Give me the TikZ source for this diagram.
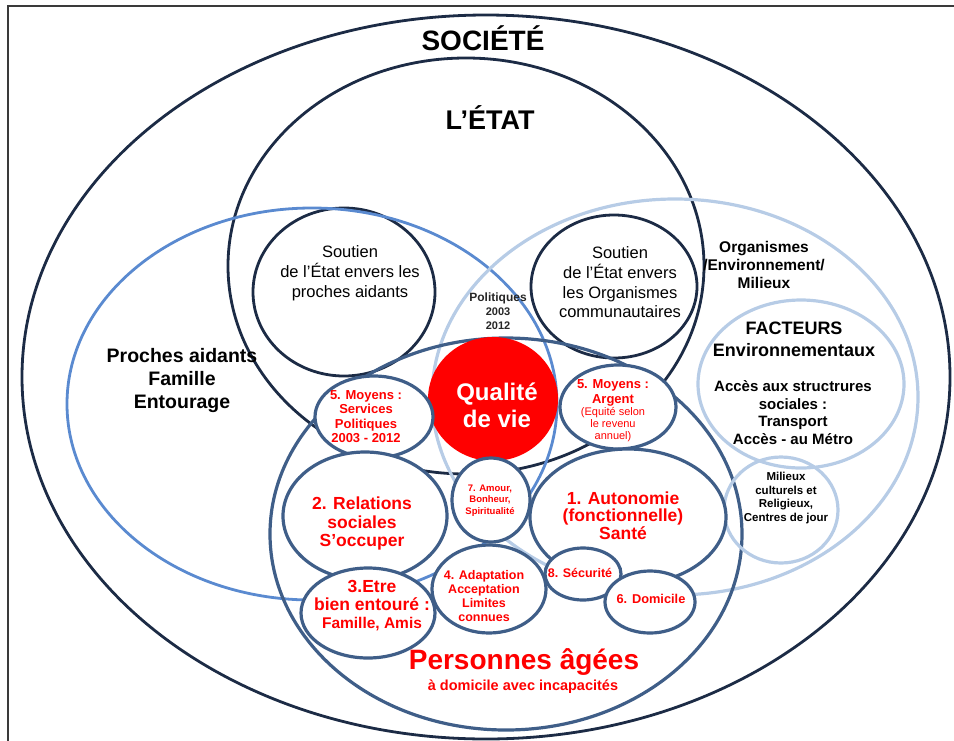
\documentclass[tikz,border=0pt]{standalone}
\usepackage{fontspec}
\setmainfont{Liberation Sans}
\definecolor{navyc}{HTML}{1C2B45}
\definecolor{midblue}{HTML}{5A8AD0}
\definecolor{paleblue}{HTML}{B7CCE6}
\definecolor{steel}{HTML}{3F5E88}
\definecolor{redc}{HTML}{FF0000}
\definecolor{framec}{HTML}{3A3A3A}
\begin{document}
\begin{tikzpicture}[x=1pt,y=-1pt,
  navyring/.style={draw=navyc, line width=2.8pt},
  midring/.style={draw=midblue, line width=2.8pt},
  palering/.style={draw=paleblue, line width=3.2pt},
  steelring/.style={draw=steel, line width=3.2pt},
  bubble/.style={draw=steel, line width=3.2pt, fill=white},
  lbl/.style={align=center, inner sep=0pt},
  blk/.style={lbl, text=black},
  rd/.style={lbl, text=redc, font=\bfseries}]
\useasboundingbox (0,0) rectangle (954,740);
\clip (0,0) rectangle (954,740);

% frame
\draw[framec, line width=1.2pt] (8,760) -- (8,6) -- (970,6);

% society and state
\draw[navyring] (486,377) ellipse [x radius=464pt, y radius=362pt];
\draw[navyring] (466,266) ellipse [x radius=238pt, y radius=208pt];

% state support circles
\draw[navyring] (344,292) ellipse [x radius=91pt, y radius=84pt];
\draw[navyring] (614,286.5) ellipse [x radius=83pt, y radius=71.5pt];

% caregivers and environment
\draw[midring] (312,404) ellipse [x radius=245pt, y radius=196pt];
\draw[palering] (675,397) ellipse [x radius=243pt, y radius=198pt];

% elderly people
\draw[steelring] (506,534) ellipse [x radius=236pt, y radius=196pt];

% environmental factors
\draw[palering] (801,384) ellipse [x radius=103pt, y radius=84pt];
\draw[palering] (781,510) ellipse [x radius=57pt, y radius=53pt];

% quality of life
\fill[redc] (493,399) ellipse [x radius=65pt, y radius=62pt];

% dimension bubbles
\draw[bubble] (374,417) ellipse [x radius=59pt, y radius=41pt];
\draw[bubble] (618,407) ellipse [x radius=58pt, y radius=42pt];
\draw[bubble] (365,516) ellipse [x radius=82pt, y radius=64pt];
\draw[bubble] (491,500) ellipse [x radius=39pt, y radius=42pt];
\draw[bubble] (628,517) ellipse [x radius=98pt, y radius=68pt];
\draw[bubble] (368,613) ellipse [x radius=67pt, y radius=45pt];
\draw[bubble] (489,589) ellipse [x radius=57pt, y radius=44pt];
\draw[bubble] (583,574) ellipse [x radius=38pt, y radius=26pt];
\draw[bubble] (650,602) ellipse [x radius=45pt, y radius=31pt];

% titles
\node[blk, font=\bfseries\fontsize{28}{30}\selectfont] (societe) at (483,38) {SOCIÉTÉ};
\node[blk, font=\bfseries\fontsize{27}{30}\selectfont] (etat) at (490,118) {L’ÉTAT};

\node[blk, font=\fontsize{16.5}{20}\selectfont] (soutienpa) at (350,273)
  {Soutien\\de l’État envers les\\proches aidants};
\node[blk, font=\fontsize{16.5}{19.7}\selectfont] (soutienorg) at (620,282.5)
  {Soutien\\de l’État envers\\les Organismes\\communautaires};
\node[blk, font=\bfseries\fontsize{12}{14}\selectfont, text=black!85] (polit) at (498,311)
  {Politiques\\{\fontsize{11}{14}\selectfont 2003}\\{\fontsize{11}{14}\selectfont 2012}};

\node[blk, font=\bfseries\fontsize{19.5}{23}\selectfont] (proches) at (182,380)
  {Proches aidants\\Famille\\Entourage};
\node[blk, font=\bfseries\fontsize{15.5}{18}\selectfont] (organismes) at (764,265)
  {Organismes\\/Environnement/\\Milieux};
\node[blk, font=\bfseries\fontsize{18}{22}\selectfont] (facteurs) at (794,339)
  {FACTEURS\\Environnementaux};
\node[blk, font=\bfseries\fontsize{15}{17.7}\selectfont] (acces) at (793,412.5)
  {Accès aux structrures\\sociales :\\Transport\\Accès - au Métro};
\node[blk, font=\bfseries\fontsize{11.5}{13.5}\selectfont] (milieux) at (786,498)
  {Milieux\\culturels et\\Religieux,\\Centres de jour};

% quality of life and its dimensions
\node[lbl, text=white, font=\bfseries\fontsize{24}{27}\selectfont] (qualite) at (497,405.5)
  {Qualité\\de vie};
\node[rd, font=\bfseries\fontsize{13}{14.3}\selectfont] (moyserv) at (366,416.5)
  {5. Moyens :\\Services\\Politiques\\2003 - 2012};
\node[rd, font=\bfseries\fontsize{13}{15}\selectfont] (moyarg) at (613,392.5)
  {5. Moyens :\\Argent};
\node[rd, font=\fontsize{11}{12}\selectfont] (equite) at (613,425)
  {(Equité selon\\le revenu\\annuel)};
\node[rd, font=\bfseries\fontsize{9.5}{11.5}\selectfont] (amour) at (490,500.5)
  {7. Amour,\\Bonheur,\\Spiritualité};
\node[rd, font=\bfseries\fontsize{17.5}{18.5}\selectfont] (relations) at (362,523.5)
  {2. Relations\\sociales\\S’occuper};
\node[rd, font=\bfseries\fontsize{17.5}{17.5}\selectfont] (autonomie) at (623,515.5)
  {1. Autonomie\\(fonctionnelle)\\Santé};
\node[rd, font=\bfseries\fontsize{17.5}{18}\selectfont] (entoure) at (372,606)
  {3.Etre\\bien entouré :\\{\fontsize{15.5}{18}\selectfont Famille, Amis}};
\node[rd, font=\bfseries\fontsize{12.5}{14}\selectfont] (adapt) at (484,596)
  {4. Adaptation\\Acceptation\\Limites\\connues};
\node[rd, font=\bfseries\fontsize{12.5}{14}\selectfont] (secu) at (580,573) {8. Sécurité};
\node[rd, font=\bfseries\fontsize{12.8}{14}\selectfont] (domi) at (651,599) {6. Domicile};

\node[rd, font=\bfseries\fontsize{28}{30}\selectfont] (personnes) at (524,662) {Personnes âgées};
\node[rd, font=\bfseries\fontsize{14.5}{16}\selectfont] (incap) at (523,687) {à domicile avec incapacités};
\end{tikzpicture}
\end{document}
